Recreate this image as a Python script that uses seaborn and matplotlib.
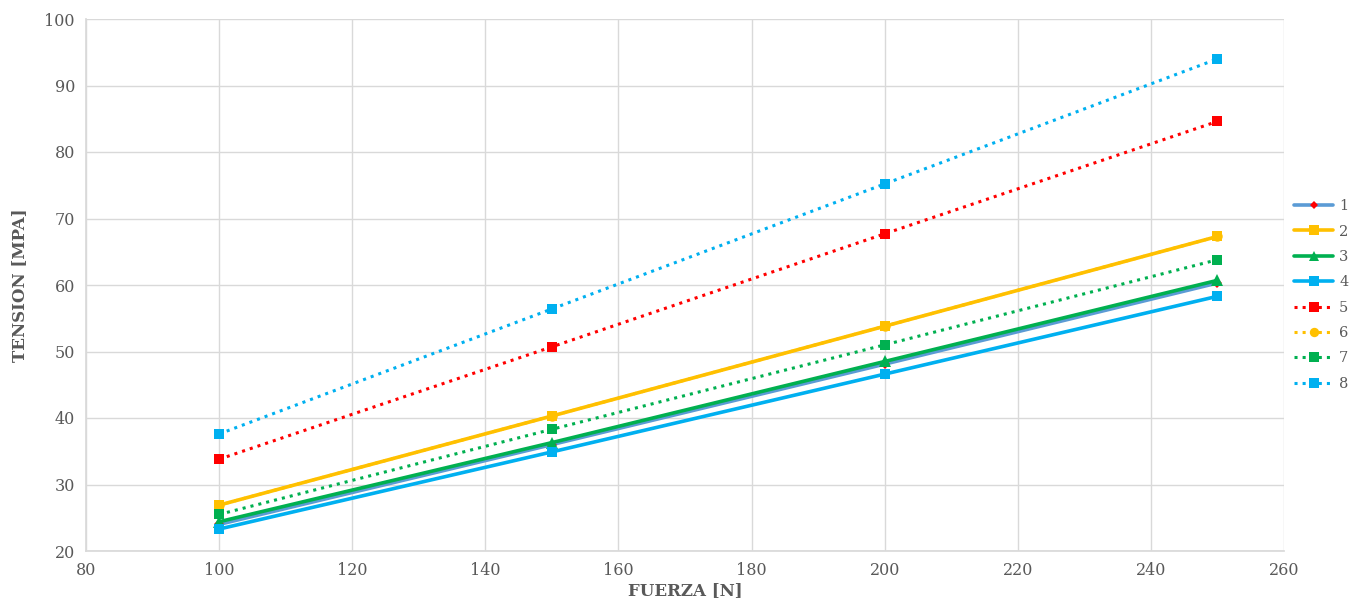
import matplotlib
matplotlib.use("Agg")
import matplotlib.pyplot as plt
import seaborn as sns
import pandas as pd
import numpy as np

# Applied force [N]
fuerza = [100, 150, 200, 250]

# Stress values [MPa] per specimen
s1 = [24.0, 36.0, 48.1, 60.3]
s2 = [26.9, 40.3, 53.8, 67.3]
s3 = [24.4, 36.3, 48.5, 60.7]
s4 = [23.3, 34.9, 46.6, 58.3]
s5 = [33.8, 50.7, 67.7, 84.6]
s6 = [26.9, 40.3, 53.8, 67.3]
s7 = [25.5, 38.3, 51.0, 63.8]
s8 = [37.6, 56.4, 75.2, 94.0]

series_names = ["1", "2", "3", "4", "5", "6", "7", "8"]
series_values = [s1, s2, s3, s4, s5, s6, s7, s8]

styles = {
    "1": dict(color="#5B9BD5", ls="-", marker="D", mfc="#FF0000", ms=5, lw=2.6, z=3),
    "2": dict(color="#FFC000", ls="-", marker="s", mfc="#FFC000", ms=7.5, lw=2.6, z=4),
    "3": dict(color="#00B050", ls="-", marker="^", mfc="#00B050", ms=8, lw=2.6, z=4),
    "4": dict(color="#00B0F0", ls="-", marker="s", mfc="#00B0F0", ms=7.5, lw=2.6, z=4),
    "5": dict(color="#FF0000", ls=":", marker="s", mfc="#FF0000", ms=7.5, lw=2.2, z=4),
    "6": dict(color="#FFC000", ls=":", marker="o", mfc="#FFC000", ms=7.5, lw=2.2, z=2),
    "7": dict(color="#00B050", ls=":", marker="s", mfc="#00B050", ms=7.5, lw=2.2, z=4),
    "8": dict(color="#00B0F0", ls=":", marker="s", mfc="#00B0F0", ms=7.5, lw=2.2, z=4),
}

sns.set_theme(style="whitegrid")
plt.rcParams["font.family"] = ["DejaVu Serif"]

fig = plt.figure(figsize=(13.57, 6.01), dpi=100)
ax = fig.add_axes([86 / 1357, 50 / 601, (1284 - 86) / 1357, (551 - 19) / 601])

for name, vals in zip(series_names, series_values):
    st = styles[name]
    df = pd.DataFrame({"Fuerza": fuerza, "Tension": vals})
    sns.lineplot(data=df, x="Fuerza", y="Tension", ax=ax, color=st["color"],
                 linestyle=st["ls"], linewidth=st["lw"], marker=st["marker"],
                 markersize=st["ms"], markerfacecolor=st["mfc"],
                 markeredgecolor=st["mfc"], markeredgewidth=0,
                 label=name, zorder=st["z"])

ax.set_xlim(80, 260)
ax.set_ylim(20, 100)
ax.set_xticks(np.arange(80, 261, 20))
ax.set_yticks(np.arange(20, 101, 10))
ax.grid(True, color="#D9D9D9", linewidth=1.0)
for side in ["top", "right"]:
    ax.spines[side].set_visible(False)
ax.spines["left"].set_color("#D9D9D9")
ax.spines["bottom"].set_color("#D9D9D9")
ax.tick_params(axis="both", colors="#595959", labelsize=11.5, length=0, pad=8)

ax.set_xlabel("FUERZA [N]", fontsize=12, fontweight="bold", color="#595959", labelpad=2)
ax.set_ylabel("TENSION [MPA]", fontsize=12, fontweight="bold", color="#595959", labelpad=12)

handles, labels = ax.get_legend_handles_labels()
ax.get_legend().remove()
leg = fig.legend(handles, labels, loc="center left", bbox_to_anchor=(1294 / 1357, 1 - 295 / 601),
                 frameon=False, fontsize=10.5, handlelength=2.7, labelspacing=0.78,
                 handletextpad=0.4, markerscale=0.9, borderpad=0, borderaxespad=0)
for t in leg.get_texts():
    t.set_color("#595959")

fig.savefig("out.png", dpi=100)
